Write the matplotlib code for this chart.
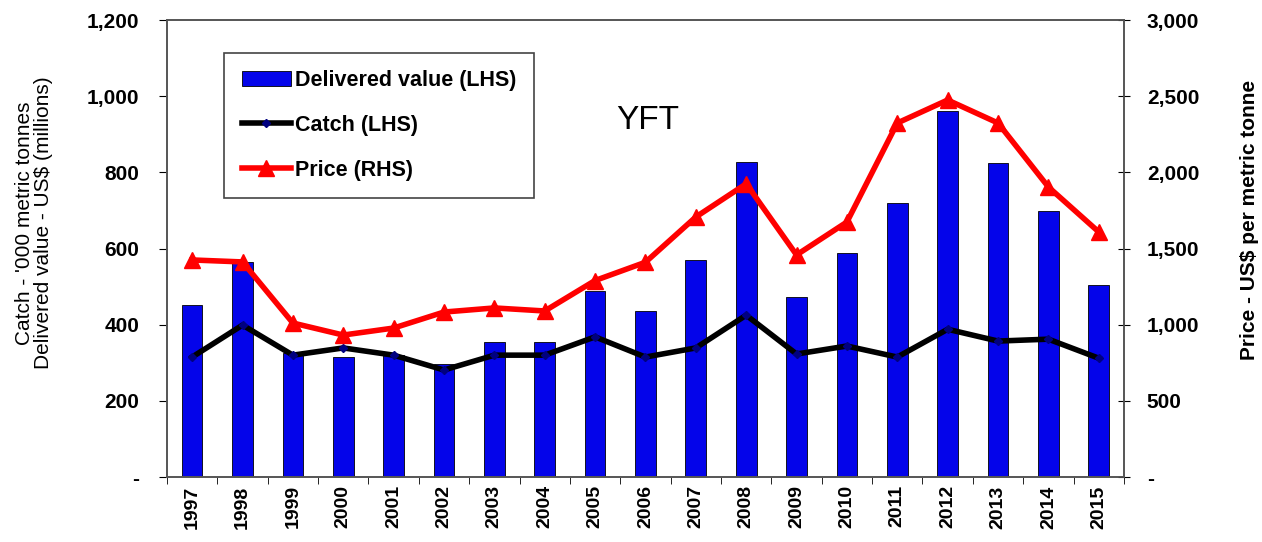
import numpy as np
import matplotlib.pyplot as plt
from matplotlib.ticker import FuncFormatter

plt.rcParams['font.family'] = ['Liberation Sans', 'DejaVu Sans']

# Datos
years = [1997, 1998, 1999, 2000, 2001, 2002, 2003, 2004, 2005, 2006,
         2007, 2008, 2009, 2010, 2011, 2012, 2013, 2014, 2015]
delivered_value = [452, 565, 325, 315, 320, 297, 355, 355, 488, 436,
                   570, 827, 472, 588, 719, 961, 824, 698, 504]
catch = [315, 399, 320, 339, 320, 281, 320, 320, 368, 315,
         339, 425, 323, 344, 315, 388, 357, 362, 312]
price = [1425, 1412, 1011, 932, 978, 1083, 1110, 1090, 1290, 1410,
         1707, 1925, 1458, 1674, 2324, 2475, 2324, 1904, 1609]

x = np.arange(len(years))

fig = plt.figure(figsize=(12.62, 5.42), dpi=100)
ax = fig.add_axes([0.1323, 0.1199, 0.7583, 0.8431])
ax2 = ax.twinx()

bars = ax.bar(x, delivered_value, width=0.41, color='#0404ea', edgecolor='black',
              linewidth=0.6, zorder=2)
catch_line, = ax.plot(x, catch, color='black', lw=4, marker='D', markersize=4,
                      markerfacecolor='#000080', markeredgecolor='#000080', zorder=3)
price_line, = ax2.plot(x, price, color='#ff0000', lw=4, marker='^', markersize=11,
                       zorder=3)

ax.set_xlim(-0.5, len(years) - 0.5)
ax.set_ylim(0, 1200)
ax2.set_ylim(0, 3000)

fmt = FuncFormatter(lambda v, p: '-' if v == 0 else f'{int(v):,}')
ax.set_yticks(np.arange(0, 1201, 200))
ax2.set_yticks(np.arange(0, 3001, 500))
ax.yaxis.set_major_formatter(fmt)
ax2.yaxis.set_major_formatter(fmt)

ax.set_xticks(x)
ax.set_xticklabels([str(y) for y in years], rotation=90, fontweight='bold', fontsize=14)
ax.set_xticks(np.arange(-0.5, len(years), 1), minor=True)
ax.tick_params(axis='x', which='major', length=0, pad=6)
ax.tick_params(axis='x', which='minor', length=5, direction='out')
ax.tick_params(axis='y', labelsize=15, length=6, direction='out', pad=14)
ax2.tick_params(axis='y', labelsize=15, length=9, direction='inout', pad=12)
for lab in ax.get_yticklabels() + ax2.get_yticklabels():
    lab.set_fontweight('bold')

for a in (ax, ax2):
    for s in a.spines.values():
        s.set_color('#555555')
        s.set_linewidth(1.2)

ax.set_ylabel("Catch - '000 metric tonnes\nDelivered value - US$ (millions)",
              fontsize=15, labelpad=24, linespacing=1.0)
ax2.set_ylabel('Price - US$ per metric tonne', fontsize=15, fontweight='bold',
               labelpad=29)
ax.yaxis.label.set_y(0.556)
ax2.yaxis.label.set_y(0.562)

ax.text(0.502, 0.78, 'YFT', transform=ax.transAxes, fontsize=24,
        ha='center', va='center')

leg = ax2.legend([bars, catch_line, price_line],
                 ['Delivered value (LHS)', 'Catch (LHS)', 'Price (RHS)'],
                 loc='upper left', bbox_to_anchor=(0.06, 0.928), borderaxespad=0,
                 fancybox=False, edgecolor='#444444', framealpha=1,
                 labelspacing=1.1, handlelength=2.3, handletextpad=0.2,
                 borderpad=0.8, prop={'weight': 'bold', 'size': 15.5})
leg.get_frame().set_linewidth(1.2)

fig.savefig('out.png', dpi=100)
